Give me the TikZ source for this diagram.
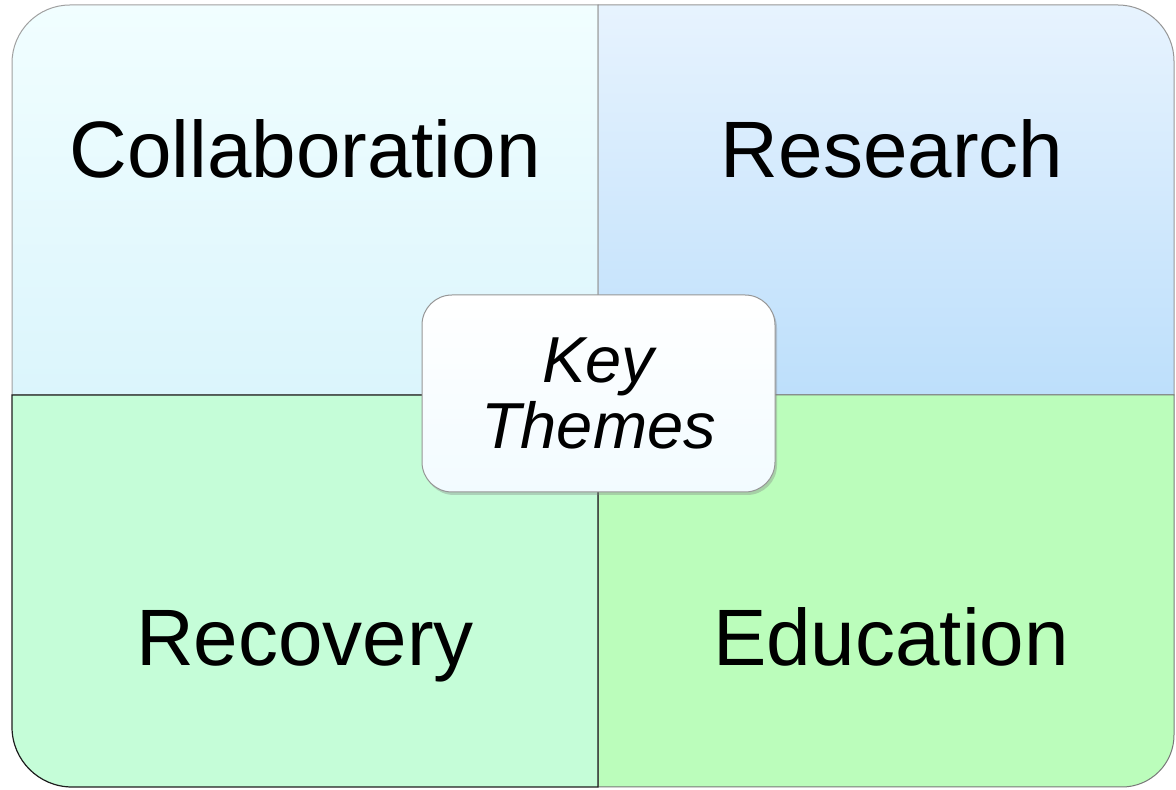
\documentclass[tikz,border=0pt]{standalone}
\usepackage{fontspec}
\setmainfont{Liberation Sans}
\usetikzlibrary{shadows}
\definecolor{tlTop}{RGB}{241,254,255}
\definecolor{tlBot}{RGB}{219,245,252}
\definecolor{trTop}{RGB}{231,243,254}
\definecolor{trBot}{RGB}{189,223,251}
\definecolor{blCol}{RGB}{197,253,216}
\definecolor{brCol}{RGB}{187,253,187}
\definecolor{keyBot}{RGB}{242,251,255}
\begin{document}
\begin{tikzpicture}[x=1pt,y=1pt,
  lbl/.style={anchor=base,inner sep=0pt,font=\fontsize{80}{82}\selectfont},
  keybox/.style={draw={rgb,255:red,150;green,150;blue,150},line width=1pt,rounded corners=30pt,
    top color=white,bottom color=keyBot,minimum width=353pt,minimum height=197pt,
    align=center,font=\fontsize{65}{66}\selectfont\itshape,
    drop shadow={shadow xshift=2pt,shadow yshift=-3pt,opacity=0.35}}]
\useasboundingbox (0,0) rectangle (1176,790);
% quadrants
\shade[top color=tlTop,bottom color=tlBot,draw={rgb,255:red,160;green,160;blue,160},line width=1pt]
  (598,395) -- (12,395) -- (12,727) arc[start angle=180,end angle=90,radius=58pt] -- (598,785) -- cycle;
\shade[top color=trTop,bottom color=trBot,draw={rgb,255:red,150;green,150;blue,150},line width=1pt]
  (598,395) -- (598,785) -- (1118,785) arc[start angle=90,end angle=0,radius=56pt] -- (1174,395) -- cycle;
\fill[brCol,draw={rgb,255:red,120;green,120;blue,120},line width=1pt]
  (598,395) -- (1174,395) -- (1174,55) arc[start angle=0,end angle=-90,radius=52pt] -- (598,3) -- cycle;
\fill[blCol,draw={rgb,255:red,30;green,30;blue,30},line width=1.2pt]
  (598,395) -- (598,3) -- (72,3) arc[start angle=270,end angle=180,radius=60pt] -- (12,395) -- cycle;
% labels
\node[lbl] (collab) at (305,612) {Collaboration};
\node[lbl] (research) at (892,612) {Research};
\node[lbl] (recovery) at (305,124) {Recovery};
\node[lbl] (education) at (891,124) {Education};
% centre box
\node[keybox] (key) at (598.5,396.5) {Key\\Themes};
\end{tikzpicture}
\end{document}
